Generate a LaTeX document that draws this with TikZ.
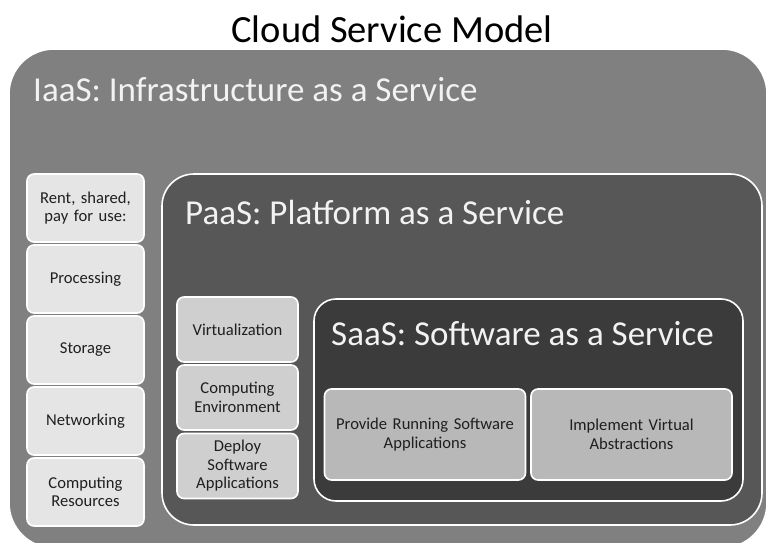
\documentclass[tikz,border=0pt]{standalone}
\usepackage{fontspec}
\setmainfont{Carlito}
\begin{document}
\begin{tikzpicture}[x=1pt,y=-1pt,
  layer/.style={draw=white,line width=1.6pt,rounded corners=#1,inner sep=0pt,anchor=center},
  bigtitle/.style={text=white!95!black,font=\fontsize{35}{42}\selectfont,anchor=base west,inner sep=0pt},
  item/.style={draw=white,line width=1.6pt,rounded corners=7pt,inner sep=2pt,align=center,
    text=black!88,font=\fontsize{16.6}{18.5}\selectfont},
  iaasitem/.style={item,fill=black!10,minimum width=117pt,minimum height=68pt,text width=110pt},
  paasitem/.style={item,fill=black!19,minimum width=121pt,minimum height=65pt,text width=114pt},
  saasitem/.style={item,fill=black!28,minimum width=201pt,minimum height=91pt,text width=194pt}]
\useasboundingbox[fill=white] (0,0) rectangle (768,543);
\begin{scope}
\clip (0,0) rectangle (768,543);
\node[layer=45pt,fill=black!50,minimum width=758pt,minimum height=499pt] (iaas) at (388,298.5) {};
\end{scope}
\node[anchor=base,inner sep=0pt,font=\fontsize{38.5}{46}\selectfont] (title) at (392,43) {Cloud Service Model};
\node[bigtitle] (iaastext) at (33,101) {IaaS: Infrastructure as a Service};
\node[layer=32pt,fill=black!66,minimum width=600pt,minimum height=351pt] (paas) at (462,349.5) {};
\node[bigtitle] (paastext) at (185,224) {PaaS: Platform as a Service};
\node[layer=22pt,fill=black!77,minimum width=429pt,minimum height=202pt] (saas) at (528.5,400) {};
\node[bigtitle] (saastext) at (331,345) {SaaS: Software as a Service};
% IaaS items
\node[iaasitem] (rent) at (85.5,208) {Rent, shared,\\pay for use:};
\node[iaasitem] (proc) at (85.5,279) {Processing};
\node[iaasitem] (stor) at (85.5,350) {Storage};
\node[iaasitem] (netw) at (85.5,421) {Networking};
\node[iaasitem] (cres) at (85.5,492) {Computing\\Resources};
% PaaS items
\node[paasitem] (virt) at (237.5,329.5) {Virtualization};
\node[paasitem] (cenv) at (237.5,397.5) {Computing\\Environment};
\node[paasitem] (depl) at (237.5,466) {Deploy\\Software\\Applications};
% SaaS items
\node[saasitem] (prov) at (425,434.5) {Provide Running Software\\Applications\\[14pt]};
\node[saasitem] (impl) at (631.5,434.5) {Implement Virtual\\Abstractions\\[14pt]};
\end{tikzpicture}
\end{document}
